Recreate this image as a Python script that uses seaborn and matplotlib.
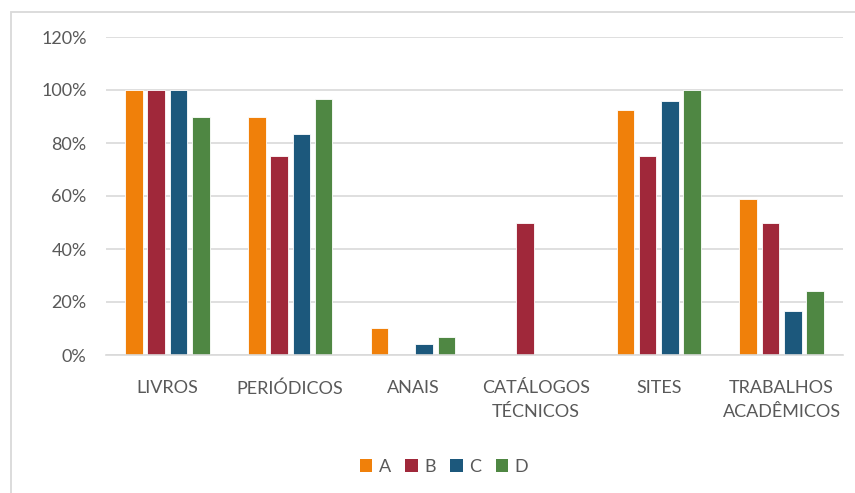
import matplotlib
matplotlib.use("Agg")
import matplotlib.pyplot as plt
import matplotlib.patches as mpatches
from matplotlib.ticker import PercentFormatter
import seaborn as sns
import pandas as pd

categories = ["LIVROS", "PERIÓDICOS", "ANAIS", "CATÁLOGOS\nTÉCNICOS", "SITES", "TRABALHOS\nACADÊMICOS"]
series_names = ["A", "B", "C", "D"]
values_a = [1.00, 0.897, 0.103, 0.00, 0.923, 0.590]
values_b = [1.00, 0.750, 0.000, 0.50, 0.750, 0.500]
values_c = [1.00, 0.833, 0.040, 0.00, 0.957, 0.167]
values_d = [0.897, 0.966, 0.069, 0.00, 1.000, 0.241]
colors = ["#F0800A", "#A0283A", "#1C587C", "#4F8743"]

rows = []
for name, vals in zip(series_names, [values_a, values_b, values_c, values_d]):
    for cat, v in zip(categories, vals):
        rows.append({"categoria": cat, "serie": name, "valor": v})
df = pd.DataFrame(rows)

sns.set_theme(style="white")
plt.rcParams["font.family"] = ["Lato", "DejaVu Sans"]
text_color = "#595959"

fig = plt.figure(figsize=(8.55, 4.93), dpi=100)
ax = fig.add_axes([106 / 855, 1 - 355 / 493, (843 - 106) / 855, (355 - 37) / 493])

sns.barplot(data=df, x="categoria", y="valor", hue="serie", order=categories,
            hue_order=series_names, palette=colors, width=0.725, gap=0.21,
            edgecolor="white", linewidth=0.6, saturation=1, ax=ax, legend=True,
            errorbar=None)

ax.set_ylim(0, 1.2)
ax.set_yticks([0, 0.2, 0.4, 0.6, 0.8, 1.0, 1.2])
ax.yaxis.set_major_formatter(PercentFormatter(1.0, decimals=0))
ax.grid(axis="y", color="#D9D9D9", linewidth=1.2)
ax.set_axisbelow(True)
for s in ["top", "right", "left"]:
    ax.spines[s].set_visible(False)
ax.spines["bottom"].set_color("#D9D9D9")
ax.spines["bottom"].set_linewidth(1.2)
ax.set_xlabel("")
ax.set_ylabel("")
ax.set_xticks(range(len(categories)), categories, linespacing=1.6, va="top")
ax.tick_params(axis="y", length=0, pad=14, labelsize=13, labelcolor=text_color)
ax.tick_params(axis="x", length=0, pad=18, labelsize=13, labelcolor=text_color)

ax.get_legend().remove()
handles = [mpatches.Patch(facecolor=c, edgecolor="none") for c in colors]
fig.legend(handles, series_names, loc="center", bbox_to_anchor=(444 / 855, 1 - 467 / 493),
           ncol=4, frameon=False, handlelength=0.7, handleheight=0.7,
           handletextpad=0.35, columnspacing=0.8, fontsize=13, labelcolor=text_color)

# chart frame
frame = mpatches.Rectangle((11 / 855, -0.1), 1.2, 1 - 11.5 / 493 + 0.1,
                           transform=fig.transFigure, fill=False,
                           edgecolor="#D9D9D9", linewidth=1.3)
fig.patches.append(frame)

fig.savefig("out.png", dpi=100)
